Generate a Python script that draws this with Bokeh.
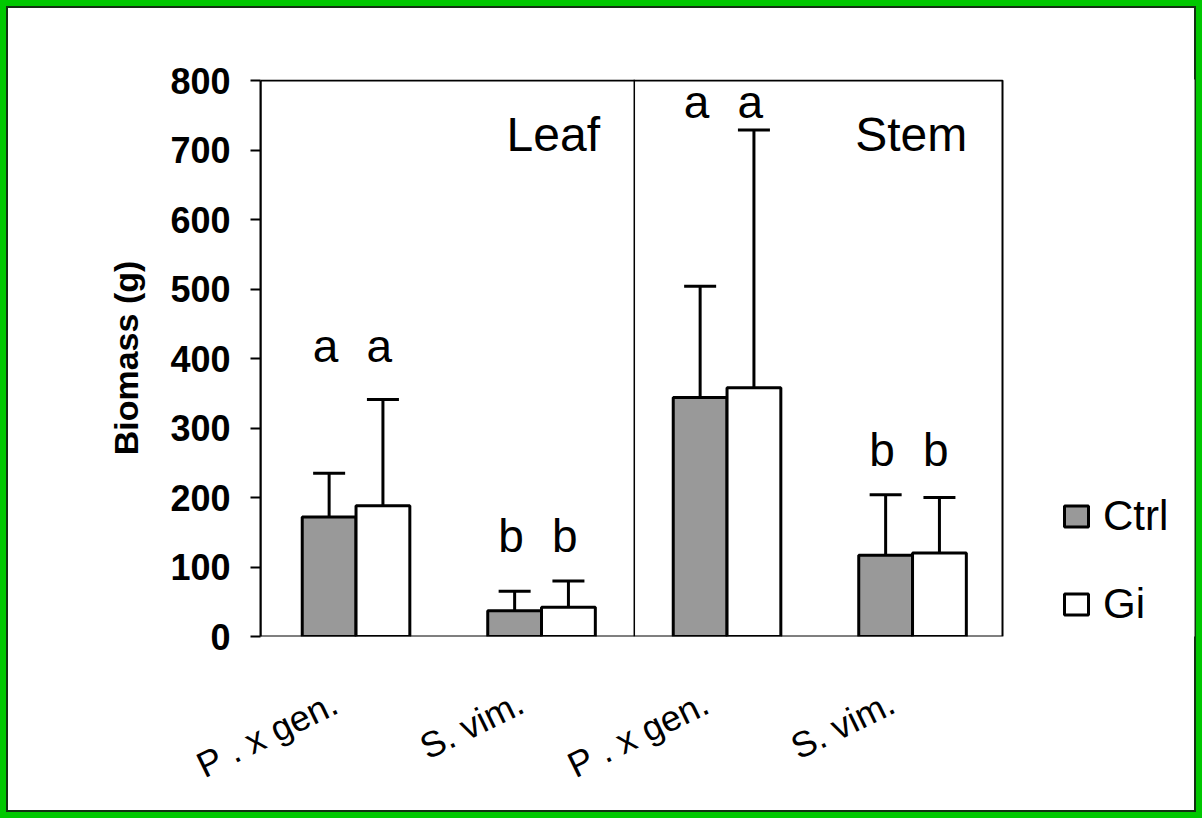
import math
from bokeh.plotting import figure
from bokeh.models import (ColumnDataSource, Whisker, TeeHead, Span, Label,
                          Legend, LegendItem, FixedTicker, Range1d, LinearAxis)
from bokeh.core.properties import value
from bokeh.embed import file_html
from bokeh.resources import INLINE

# ---- data ----
species = ["P . x gen.", "S. vim.", "P . x gen.", "S. vim."]
organs = ["Leaf", "Stem"]
ctrl_mean = [172, 37, 344, 117]
ctrl_sd = [63, 28, 160, 87]
gi_mean = [188, 42, 358, 120]
gi_sd = [153, 38, 371, 80]
letters = ["a", "b", "a", "b"]
y_ticks = [0, 100, 200, 300, 400, 500, 600, 700, 800]

# ---- layout helpers (positions only) ----
FONT = "Liberation Sans"
pos = [0.5, 1.5, 2.5, 3.5]
bw = 0.29
letter_y = [418, 144, 769, 268]
ctrl_x = [c - bw / 2 for c in pos]
gi_x = [c + bw / 2 for c in pos]
X0, X1, XEND = -0.015, 3.985, 5.02   # plot box spans X0..X1; frame extends to XEND for the legend
YTOP = 800
LAB_SHIFT = 0.11                     # rotated category labels sit a little left of their group

p = figure(width=1202, height=818, x_range=(X0, XEND), y_range=(0, YTOP + 1.5),
           x_axis_type=None,
           output_backend="svg", toolbar_location=None,
           min_border_left=260, min_border_right=8,
           min_border_top=79, min_border_bottom=182)
p.border_fill_alpha = 0
p.styles = {"background-color": "white",
            "box-shadow": "inset 0 0 0 6px #00c800, inset 0 0 0 8px #123012"}
p.background_fill_color = "white"
p.outline_line_color = None
p.xgrid.visible = False
p.ygrid.visible = False

# plot box
p.quad(left=[X0], right=[X1], bottom=[0], top=[YTOP],
       fill_color=None, line_color="black", line_width=2)

src_c = ColumnDataSource(dict(x=ctrl_x, top=ctrl_mean,
                              hi=[m + s for m, s in zip(ctrl_mean, ctrl_sd)]))
src_g = ColumnDataSource(dict(x=gi_x, top=gi_mean,
                              hi=[m + s for m, s in zip(gi_mean, gi_sd)]))

for src in (src_c, src_g):
    w = Whisker(base="x", lower="top", upper="hi", source=src, dimension="height",
                line_color="black", line_width=3, lower_head=None,
                upper_head=TeeHead(size=32, line_color="black", line_width=3))
    p.add_layout(w)

r_c = p.vbar(x="x", top="top", bottom=0, width=bw, source=src_c,
             fill_color="#999999", line_color="black", line_width=3)
r_g = p.vbar(x="x", top="top", bottom=0, width=bw, source=src_g,
             fill_color="white", line_color="black", line_width=3)

# significance letters
lx, ly, lt = [], [], []
for i in range(4):
    for bx in (ctrl_x[i], gi_x[i]):
        lx.append(bx - 0.02)
        ly.append(letter_y[i])
        lt.append(letters[i])
p.text(x=lx, y=ly, text=lt, text_font=value(FONT), text_font_size="46px",
       text_align="center", text_baseline="alphabetic", text_color="black")

# panel divider
p.add_layout(Span(location=2, dimension="height", line_color="black", line_width=1.5))

# organ labels
p.add_layout(Label(x=1.815, y=684, text=organs[0], text_align="right",
                   text_font=FONT, text_font_size="48px", text_color="black"))
p.add_layout(Label(x=3.795, y=684, text=organs[1], text_align="right",
                   text_font=FONT, text_font_size="48px", text_color="black"))

# y axis
p.yaxis.ticker = FixedTicker(ticks=y_ticks)
p.yaxis.bounds = (0, YTOP)
p.yaxis.axis_label = "Biomass (g)"
p.yaxis.axis_label_text_font = FONT
p.yaxis.axis_label_text_font_style = "bold"
p.yaxis.axis_label_text_font_size = "34px"
p.yaxis.axis_label_text_color = "black"
p.yaxis.axis_label_standoff = 22
p.yaxis.major_label_text_font = FONT
p.yaxis.major_label_text_font_style = "bold"
p.yaxis.major_label_text_font_size = "36px"
p.yaxis.major_label_text_color = "black"
p.yaxis.major_label_standoff = 20
p.yaxis.major_tick_out = 10
p.yaxis.major_tick_in = 0
p.yaxis.major_tick_line_width = 2
p.yaxis.major_tick_line_color = "black"
p.yaxis.minor_tick_line_color = None
p.yaxis.axis_line_color = "black"
p.yaxis.axis_line_width = 2

# x axis (category labels)
p.extra_x_ranges = {"labels": Range1d(X0 + LAB_SHIFT, XEND + LAB_SHIFT)}
xaxis = LinearAxis(x_range_name="labels", ticker=FixedTicker(ticks=pos),
                   major_label_overrides={pos[i]: species[i] for i in range(4)},
                   major_label_orientation=math.radians(26),
                   major_label_text_font=FONT, major_label_text_font_size="36px",
                   major_label_text_color="black", major_label_standoff=58,
                   major_tick_line_color=None, minor_tick_line_color=None,
                   axis_line_color=None)
p.add_layout(xaxis, "below")

legend = Legend(items=[LegendItem(label="Ctrl", renderers=[r_c]),
                       LegendItem(label="Gi", renderers=[r_g])],
                location=(801, 8), orientation="vertical",
                padding=0, margin=0, spacing=40,
                glyph_width=30, glyph_height=26, label_standoff=12,
                label_text_font=FONT, label_text_font_size="42px",
                label_text_color="black",
                border_line_color=None, background_fill_alpha=0)
p.add_layout(legend)

open("out.html", "w").write(file_html(p, INLINE))
